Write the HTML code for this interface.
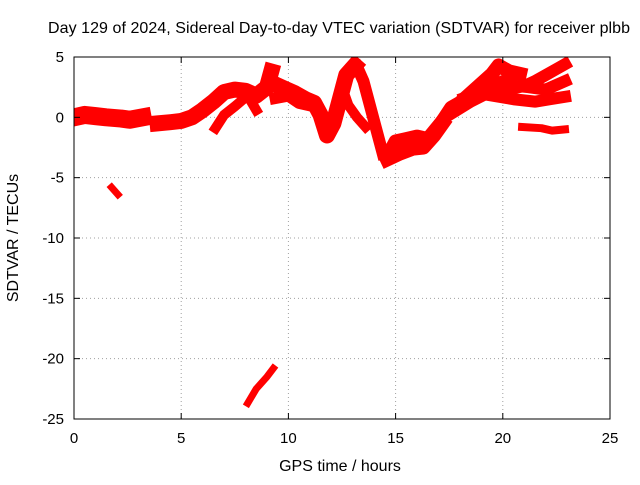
<!DOCTYPE html>
<html><head><meta charset="utf-8"><style>
body{margin:0;background:#fff}
svg text{font-family:"Liberation Sans",sans-serif;font-size:15px;fill:#000}
svg text.big{font-size:16px}
</style></head><body>
<svg id="chart" width="640" height="480">
<defs><clipPath id="plotclip"><rect x="74" y="57" width="536" height="362"/></clipPath></defs>
<text class="big" x="339" y="33" text-anchor="middle" textLength="582">Day 129 of 2024, Sidereal Day-to-day VTEC variation (SDTVAR) for receiver plbb</text>
<text class="big" x="340" y="471" text-anchor="middle">GPS time / hours</text>
<text class="big" transform="translate(18,238) rotate(-90)" text-anchor="middle">SDTVAR / TECUs</text>
<g id="grid"></g><g id="series" clip-path="url(#plotclip)"></g><g id="axes"></g>
</svg>
<script>
const xTicks=[0,5,10,15,20,25];
const yTicks=[5,0,-5,-10,-15,-20,-25];
const track1=[[0,0],[0.5,0.2],[1,0.1],[1.5,0],[2.2,-0.1],[2.6,-0.2],[3.2,0]];
const track2=[[3.9,-0.5],[4.5,-0.4],[5,-0.3],[5.5,0],[6,0.6],[6.5,1.3],[7,2.1],[7.5,2.3],[8,2.2],[8.5,1.8],[9,2.5],[9.2,3.8]];
const track3=[[6.6,-0.9],[7,0.2],[7.5,0.9],[8.1,1.8],[8.5,0.6]];
const track4=[[9.3,2.8],[9.8,2.4],[10.3,2],[10.8,1.5],[11.2,1.2],[11.5,0.2],[11.8,-1.5],[12.1,-0.5],[12.4,1.5],[12.7,3.5],[13.1,4.3]];
const track5=[[9.4,1.6],[10,1.8],[10.5,1.2],[11,1]];
const track6=[[13.2,4.2],[13.5,3],[13.8,1],[14.1,-1],[14.4,-3]];
const track7=[[12.5,2.5],[12.8,1],[13.2,0],[13.6,-0.8]];
const track8=[[14.7,-3],[15,-2],[15.5,-1.8],[16,-1.6],[16.5,-1.8],[17.1,-0.5]];
const track9=[[14.6,-3.5],[15.2,-3],[15.8,-2.6],[16.3,-2.5],[16.8,-1.5],[17.2,-0.5]];
const track10=[[17.3,0],[17.6,0.8],[18,1.2],[18.5,2],[19,2.8],[19.5,3.6],[19.8,4.3],[20.3,3.8],[20.8,3.6]];
const track11=[[17.5,0.2],[18.5,1.3],[19.5,2.2],[20.2,2.3],[21,2.6],[21.5,3],[22,3.5],[22.5,4],[22.9,4.4]];
const track12=[[18.2,1.6],[19,2.1],[20,3],[20.6,2.6],[21.2,2.5],[22,2.3],[22.9,3]];
const track13=[[19.5,1.8],[20.5,1.5],[21.5,1.3],[22.2,1.5],[22.9,1.7]];
const track14=[[20.9,-0.8],[21.8,-0.9],[22.3,-1.1],[22.9,-1]];
const track15=[[1.75,-5.8],[2.05,-6.4]];
const track16=[[8.1,-23.7],[8.5,-22.5],[9,-21.5],[9.3,-20.8]];
const tracks=[track1,track2,track3,track4,track5,track6,track7,track8,track9,track10,track11,track12,track13,track14,track15,track16];
const widths=[18,16,10,16,12,12,10,14,14,14,12,12,12,8,7,7];
const L=74,R=610,T=57,B=419;
const xs=v=>L+(v-0)/25*(R-L);
const ys=v=>T+(5-v)/30*(B-T);
const NS="http://www.w3.org/2000/svg";
function mk(tag,attrs,parent){const e=document.createElementNS(NS,tag);for(const k in attrs)e.setAttribute(k,attrs[k]);parent.appendChild(e);return e;}
const grid=document.getElementById('grid'),axes=document.getElementById('axes'),ser=document.getElementById('series');
xTicks.forEach(t=>{const x=xs(t);
 if(t>0&&t<25){const g=mk('line',{x1:x,x2:x,y1:T,y2:B,stroke:'#a0a0a0','stroke-dasharray':'1,3'},grid);
 
 }
 mk('line',{x1:x,x2:x,y1:B,y2:B-6,stroke:'#000'},axes);mk('line',{x1:x,x2:x,y1:T,y2:T+6,stroke:'#000'},axes);
 const tx=mk('text',{x:x,y:B+24,'text-anchor':'middle'},axes);tx.textContent=t;
 
 });
yTicks.forEach(t=>{const y=ys(t);
 if(t<5&&t>-25){const g=mk('line',{x1:L,x2:R,y1:y,y2:y,stroke:'#a0a0a0','stroke-dasharray':'1,3'},grid);
 
 }
 mk('line',{x1:L,x2:L+6,y1:y,y2:y,stroke:'#000'},axes);mk('line',{x1:R,x2:R-6,y1:y,y2:y,stroke:'#000'},axes);
 const tx=mk('text',{x:L-10,y:y+5,'text-anchor':'end'},axes);tx.textContent=t;
 
 });
const frame=mk('rect',{x:L,y:T,width:R-L,height:B-T,fill:'none',stroke:'#000'},axes);


tracks.forEach((tr,i)=>{
 const p=mk('polyline',{points:tr.map(d=>xs(d[0])+','+ys(d[1])).join(' '),fill:'none',stroke:'#ff0000','stroke-width':widths[i],'stroke-linejoin':'round','stroke-linecap':'square'},ser);
 
 
});
</script>
</body></html>
